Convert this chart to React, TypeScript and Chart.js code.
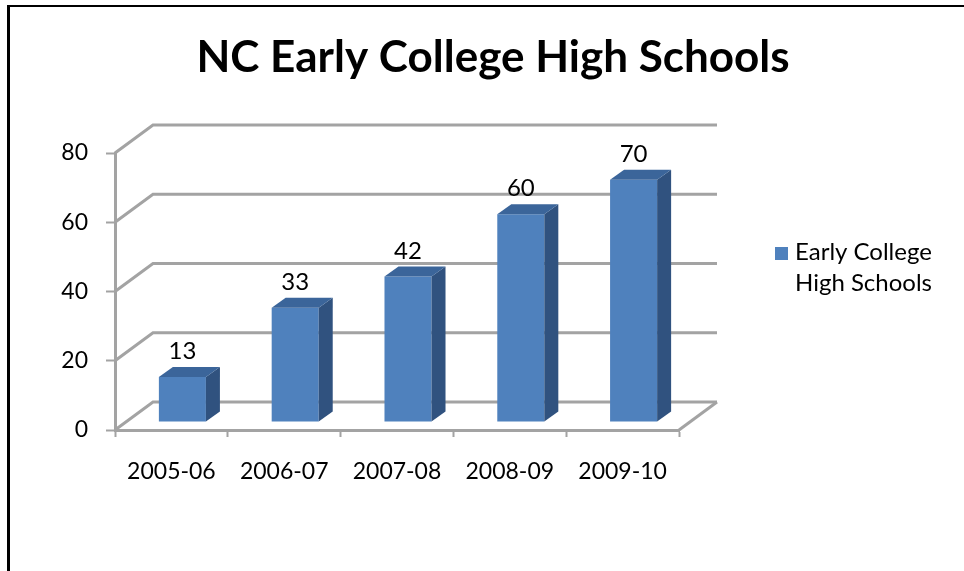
import React, { useEffect, useRef } from "react";
import { Chart, registerables } from "chart.js";

Chart.register(...registerables);

// Chart content
const chartTitle = "NC Early College High Schools";
const seriesLabel = "Early College High Schools";
const legendLines = ["Early College", "High Schools"];
const schoolYears = ["2005-06", "2006-07", "2007-08", "2008-09", "2009-10"];
const schoolCounts = [13, 33, 42, 60, 70];
const yMin = 0;
const yMax = 80;
const yStep = 20;

// Styling
const FONT = "Lato, 'Open Sans', 'DejaVu Sans', sans-serif";
const BAR_FRONT = "#4f81bd";
const BAR_SIDE = "#30527f";
const BAR_TOP = "#3b659a";
const GRID = "#a3a3a3";

// Pseudo-3D projection: depth of the walls and of the bars
const WALL_DX = 38;
const WALL_DY = 28;
const BAR_OX = 11;
const BAR_OY = 8;
const BAR_DX = 14;
const BAR_DY = 10;

const W = 964;
const H = 571;

const frameAndWalls = {
  id: "frameAndWalls",
  beforeDraw(chart: any) {
    const { ctx } = chart;
    ctx.save();
    ctx.fillStyle = "#ffffff";
    ctx.fillRect(0, 0, W, H);
    ctx.fillStyle = "#000000";
    ctx.fillRect(7, 5, 3, H - 5);
    ctx.fillRect(7, 5, W - 7, 2);

    // Title
    ctx.font = `bold 44px ${FONT}`;
    ctx.textAlign = "center";
    ctx.textBaseline = "alphabetic";
    ctx.fillText(chartTitle, 493, 72);

    // Legend
    ctx.fillStyle = BAR_FRONT;
    ctx.fillRect(775, 247, 13, 13);
    ctx.fillStyle = "#000000";
    ctx.font = `24px ${FONT}`;
    ctx.textAlign = "left";
    legendLines.forEach((line, i) => ctx.fillText(line, 795, 260 + i * 31));
    ctx.restore();
  },
  beforeDatasetsDraw(chart: any) {
    const { ctx, chartArea: a, scales } = chart;
    const y = scales.y;
    ctx.save();
    ctx.strokeStyle = GRID;
    ctx.lineWidth = 3;
    ctx.lineJoin = "miter";
    // side wall diagonals + back wall gridlines
    y.ticks.forEach((t: any) => {
      const py = y.getPixelForValue(t.value);
      ctx.beginPath();
      ctx.moveTo(a.left, py);
      ctx.lineTo(a.left + WALL_DX, py - WALL_DY);
      ctx.lineTo(a.right + WALL_DX, py - WALL_DY);
      ctx.stroke();
    });
    // right edge of the floor
    ctx.beginPath();
    ctx.moveTo(a.right, a.bottom);
    ctx.lineTo(a.right + WALL_DX, a.bottom - WALL_DY);
    ctx.stroke();
    ctx.restore();

    // bars stand inside the floor, set back from the front edge
    ctx.save();
    ctx.translate(BAR_OX, -BAR_OY);
  },
  afterDatasetsDraw(chart: any) {
    const { ctx } = chart;
    ctx.restore();
    const meta = chart.getDatasetMeta(0);
    ctx.save();
    meta.data.forEach((bar: any, i: number) => {
      const { x, y, base, width } = bar.getProps(["x", "y", "base", "width"], true);
      const l = x - width / 2 + BAR_OX;
      const r = x + width / 2 + BAR_OX;
      const t = y - BAR_OY;
      const b = base - BAR_OY;
      // side face
      ctx.fillStyle = BAR_SIDE;
      ctx.beginPath();
      ctx.moveTo(r, b);
      ctx.lineTo(r, t);
      ctx.lineTo(r + BAR_DX, t - BAR_DY);
      ctx.lineTo(r + BAR_DX, b - BAR_DY);
      ctx.closePath();
      ctx.fill();
      // top face
      ctx.fillStyle = BAR_TOP;
      ctx.beginPath();
      ctx.moveTo(l, t);
      ctx.lineTo(r, t);
      ctx.lineTo(r + BAR_DX, t - BAR_DY);
      ctx.lineTo(l + BAR_DX, t - BAR_DY);
      ctx.closePath();
      ctx.fill();
      // value label
      ctx.fillStyle = "#000000";
      ctx.font = `24px ${FONT}`;
      ctx.textAlign = "center";
      ctx.textBaseline = "alphabetic";
      ctx.fillText(String(schoolCounts[i]), (l + r) / 2, t - BAR_DY - 8);
    });
    ctx.restore();
  },
};

export default function App() {
  const canvasRef = useRef<HTMLCanvasElement | null>(null);

  useEffect(() => {
    if (!canvasRef.current) return;
    const chart = new Chart(canvasRef.current, {
      type: "bar",
      data: {
        labels: schoolYears,
        datasets: [
          {
            label: seriesLabel,
            data: schoolCounts,
            backgroundColor: BAR_FRONT,
            borderWidth: 0,
            categoryPercentage: 1,
            barPercentage: 0.417,
          },
        ],
      },
      options: {
        responsive: false,
        animation: false,
        devicePixelRatio: 1,
        layout: { padding: { left: 0, right: 285, top: 153, bottom: 0 } },
        plugins: {
          legend: { display: false },
          title: { display: false },
          tooltip: { enabled: false },
        },
        scales: {
          x: {
            grid: {
              offset: true,
              drawOnChartArea: false,
              drawTicks: true,
              tickLength: 7,
              tickWidth: 2,
              tickColor: GRID,
            },
            border: { display: true, color: GRID, width: 3 },
            ticks: {
              color: "#000000",
              padding: 21,
              font: { family: FONT, size: 23 },
              maxRotation: 0,
            },
            afterFit: (scale: any) => {
              scale.height = 141;
            },
          },
          y: {
            min: yMin,
            max: yMax,
            grid: {
              drawOnChartArea: false,
              drawTicks: true,
              tickLength: 9,
              tickWidth: 2,
              tickColor: GRID,
            },
            border: { display: true, color: GRID, width: 3 },
            ticks: {
              stepSize: yStep,
              color: "#000000",
              padding: 18,
              font: { family: FONT, size: 23 },
            },
            afterFit: (scale: any) => {
              scale.width = 115;
            },
          },
        },
      },
      plugins: [frameAndWalls],
    });
    return () => chart.destroy();
  }, []);

  return (
    <div style={{ position: "fixed", left: 0, top: 0, width: W, height: H, background: "#fff" }}>
      <canvas ref={canvasRef} width={W} height={H} style={{ display: "block", width: W, height: H }} />
    </div>
  );
}
